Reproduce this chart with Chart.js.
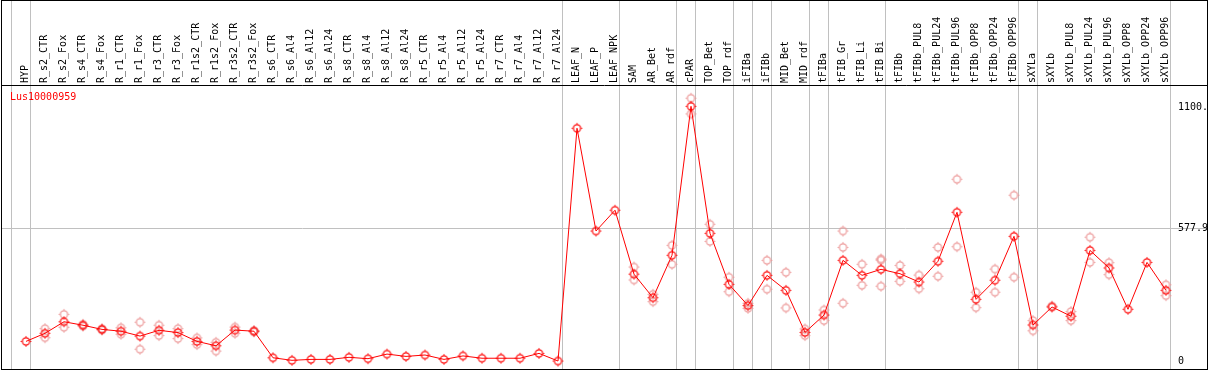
<!DOCTYPE html>
<html lang="en">
  <head>
    <meta charset="UTF-8" />
    <title>Lus10000959</title>
    <script src="https://cdn.jsdelivr.net/npm/chart.js@4.4.0/dist/chart.umd.min.js"></script>
    <style>
      body { margin: 0; background: #fff; }
    </style>
  </head>
  <body>
    <canvas id="myChart" width="1209" height="370"></canvas>

    <script>
      const geneName = 'Lus10000959';

      const cats = ['HYP', 'R_s2_CTR', 'R_s2_Fox', 'R_s4_CTR', 'R_s4_Fox', 'R_r1_CTR', 'R_r1_Fox',
        'R_r3_CTR', 'R_r3_Fox', 'R_r1s2_CTR', 'R_r1s2_Fox', 'R_r3s2_CTR', 'R_r3s2_Fox',
        'R_s6_CTR', 'R_s6_Al4', 'R_s6_Al12', 'R_s6_Al24', 'R_s8_CTR', 'R_s8_Al4', 'R_s8_Al12', 'R_s8_Al24',
        'R_r5_CTR', 'R_r5_Al4', 'R_r5_Al12', 'R_r5_Al24', 'R_r7_CTR', 'R_r7_Al4', 'R_r7_Al12', 'R_r7_Al24',
        'LEAF_N', 'LEAF_P', 'LEAF_NPK', 'SAM', 'AR_Bet', 'AR_rdf', 'cPAR', 'TOP_Bet', 'TOP_rdf',
        'iFIBa', 'iFIBb', 'MID_Bet', 'MID_rdf', 'tFIBa', 'tFIB_Gr', 'tFIB_Li', 'tFIB_Bi', 'tFIBb',
        'tFIBb_PUL8', 'tFIBb_PUL24', 'tFIBb_PUL96', 'tFIBb_OPP8', 'tFIBb_OPP24', 'tFIBb_OPP96',
        'sXYLa', 'sXYLb', 'sXYLb_PUL8', 'sXYLb_PUL24', 'sXYLb_PUL96', 'sXYLb_OPP8', 'sXYLb_OPP24', 'sXYLb_OPP96'];

      // mean expression per sample
      const meanVals = [88, 123, 173, 158, 140, 132, 111, 136, 126, 88, 69, 137, 132,
        17, 6, 10, 10, 19, 13, 33, 23, 29, 10, 25, 15, 15, 15, 36, 3,
        1011, 566, 656, 379, 277, 461, 1106, 556, 335,
        243, 374, 309, 127, 202, 439, 374, 400, 381,
        345, 435, 647, 270, 353, 543,
        159, 237, 197, 482, 406, 227, 430, 309];

      // replicates
      const rep1 = [null, 143, 205, 162, 143, 147, 171, 158, 143, 103, 84, 150, 135,
        null, null, null, null, null, null, null, null, null, null, null, null, null, null, null, null,
        null, null, null, 410, 292, 504, 1141, 595, 366,
        253, 439, 387, 142, 224, 566, 422, 445, 417,
        375, 495, 790, 301, 401, 721,
        178, 241, 217, 539, 429, null, null, 333];
      const rep2 = [null, 104, 149, 154, 137, 119, 54, 113, 100, 74, 46, 123, 129,
        null, null, null, null, null, null, null, null, null, null, null, null, null, null, null, null,
        null, null, null, 354, 260, 422, 1073, 521, 303,
        231, 314, 233, 113, 178, 495, 331, 327, 348,
        316, 370, 498, 234, 301, 366,
        134, null, 178, 430, 377, null, null, 286];
      const rep3 = [null, null, null, null, null, null, null, null, null, null, null, null, null,
        null, null, null, null, null, null, null, null, null, null, null, null, null, null, null, null,
        null, null, null, null, null, null, null, null, null,
        null, null, null, null, null, 253, null, 440, null,
        null, null, null, null, null, null,
        null, null, null, null, null, null, null, null];

      const yTicks = [0, 577.9, 1100];
      const yTickLabels = ['0', '577.9', '1100.'];

      // last sample index of each group (-1 = left edge)
      const groupEnds = [-1, 0, 28, 31, 34, 35, 37, 38, 39, 41, 42, 45, 52, 53, 60];

      const FONT = 'DejaVu Sans Mono';

      function makeMarker(color) {
        const c = document.createElement('canvas');
        c.width = 13;
        c.height = 13;
        const g = c.getContext('2d');
        g.strokeStyle = color;
        g.lineWidth = 1.2;
        g.beginPath();
        g.arc(6.5, 6.5, 3.6, 0, Math.PI * 2);
        g.stroke();
        g.lineWidth = 1;
        g.beginPath();
        g.moveTo(6.5, 1.2); g.lineTo(6.5, 2.5);
        g.moveTo(6.5, 10.5); g.lineTo(6.5, 11.8);
        g.moveTo(1.2, 6.5); g.lineTo(2.5, 6.5);
        g.moveTo(10.5, 6.5); g.lineTo(11.8, 6.5);
        g.stroke();
        return c;
      }

      function toPoints(arr) {
        const pts = [];
        arr.forEach((v, i) => { if (v !== null) pts.push({ x: i, y: v }); });
        return pts;
      }

      const redMark = makeMarker('#ff0000');
      const pinkMark = makeMarker('rgb(236,150,150)');

      const frame = {
        id: 'frame',
        beforeDatasetsDraw(chart) {
          const { ctx, chartArea, scales } = chart;
          ctx.save();
          ctx.strokeStyle = '#c0c0c0';
          ctx.lineWidth = 1;
          groupEnds.forEach(e => {
            const px = Math.round(scales.x.getPixelForValue(e + 0.23)) + 0.5;
            ctx.beginPath();
            ctx.moveTo(px, 0);
            ctx.lineTo(px, chartArea.bottom);
            ctx.stroke();
          });
          ctx.restore();
        },
        afterDraw(chart) {
          const { ctx, chartArea } = chart;
          ctx.save();
          ctx.strokeStyle = '#000';
          ctx.lineWidth = 1;
          ctx.strokeRect(1.5, 0.5, 1206, 369);
          ctx.beginPath();
          ctx.moveTo(1, chartArea.top + 0.5);
          ctx.lineTo(1208, chartArea.top + 0.5);
          ctx.stroke();
          ctx.fillStyle = '#ff0000';
          ctx.font = '10px "' + FONT + '"';
          ctx.textBaseline = 'middle';
          ctx.fillText(geneName, 10, 97);
          ctx.restore();
        }
      };

      const ctx = document.getElementById('myChart').getContext('2d');
      const myChart = new Chart(ctx, {
        type: 'line',
        data: {
          datasets: [
            {
              label: 'mean',
              data: toPoints(meanVals),
              borderColor: '#ff0000',
              borderWidth: 1,
              pointStyle: redMark,
              pointRadius: 5,
              tension: 0,
              order: 0
            },
            {
              label: 'rep1',
              data: toPoints(rep1),
              showLine: false,
              pointStyle: pinkMark,
              pointRadius: 5,
              order: 1
            },
            {
              label: 'rep2',
              data: toPoints(rep2),
              showLine: false,
              pointStyle: pinkMark,
              pointRadius: 5,
              order: 1
            },
            {
              label: 'rep3',
              data: toPoints(rep3),
              showLine: false,
              pointStyle: pinkMark,
              pointRadius: 5,
              order: 1
            }
          ]
        },
        options: {
          responsive: false,
          animation: false,
          layout: { autoPadding: false, padding: { left: 1, right: 2, top: 0, bottom: 1 } },
          plugins: {
            legend: { display: false },
            tooltip: { enabled: false }
          },
          scales: {
            x: {
              type: 'linear',
              position: 'top',
              min: -25 / 19,
              max: 60 + 41 / 19,
              afterBuildTicks: s => { s.ticks = cats.map((c, i) => ({ value: i })); },
              afterFit: s => {
                s.height = 85;
                s.paddingLeft = 0;
                s.paddingRight = 0;
              },
              grid: { display: false, drawTicks: false },
              border: { display: false },
              ticks: {
                autoSkip: false,
                minRotation: 90,
                maxRotation: 90,
                padding: 2,
                labelOffset: 11,
                color: '#000',
                font: { family: FONT, size: 10 },
                callback: v => cats[v]
              }
            },
            y: {
              type: 'linear',
              position: 'right',
              min: -31.6,
              max: 1198.3,
              afterBuildTicks: s => { s.ticks = yTicks.map(v => ({ value: v })); },
              afterFit: s => {
                s.width = 0;
                s.paddingTop = 0;
                s.paddingBottom = 0;
              },
              grid: {
                drawTicks: false,
                color: c => (c.tick && c.tick.value === 577.9 ? '#c0c0c0' : 'rgba(0,0,0,0)')
              },
              border: { display: false },
              ticks: {
                mirror: true,
                crossAlign: 'far',
                padding: 1,
                autoSkip: false,
                color: '#000',
                font: { family: FONT, size: 10 },
                callback: (v, i) => yTickLabels[i]
              }
            }
          }
        },
        plugins: [frame]
      });
    </script>
  </body>
</html>
